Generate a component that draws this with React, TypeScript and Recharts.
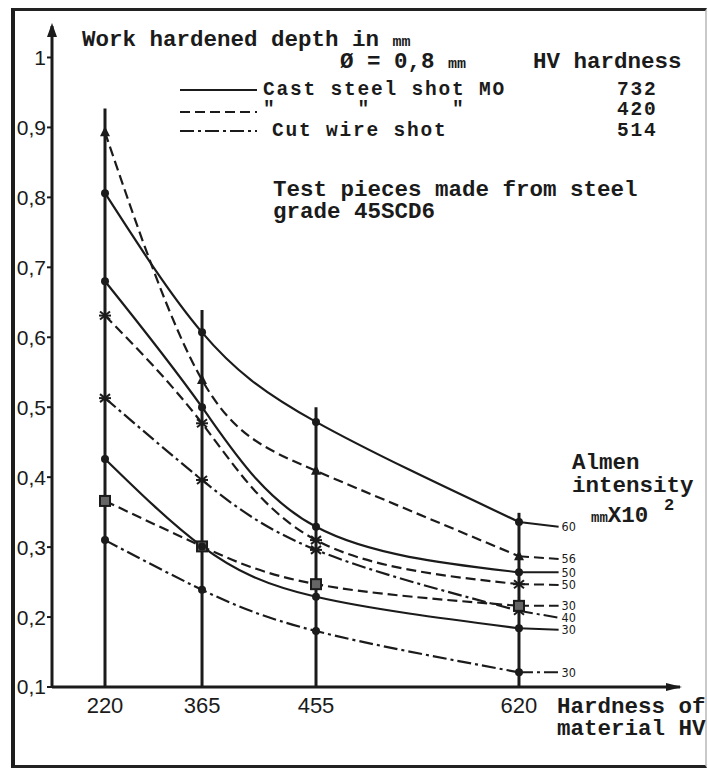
import React from "react";
import { Legend, Line, LineChart, ReferenceDot, ReferenceLine, XAxis, YAxis } from "recharts";

// hardness of the test pieces (HV) where the measurements were taken
const HARDNESS = [220, 365, 455, 620];
// each curve is led on past 620 HV to its intensity label
const CURVE_END_HV = 652;
// top of the vertical guide drawn at each hardness
const GUIDE_TOPS = [0.927, 0.639, 0.5, 0.349];

// the hardness axis of the drawing is not linear: knots and their share of the axis length
const AXIS_KNOTS_HV = [150, 220, 365, 455, 620, 750];
const AXIS_KNOTS_SHARE = [0, 0.0844, 0.2389, 0.4204, 0.7436, 1];

const Y_MIN = 0.1;
const Y_MAX = 1.045;
const Y_TICKS = [0.1, 0.2, 0.3, 0.4, 0.5, 0.6, 0.7, 0.8, 0.9, 1];

// work hardened depth (mm) at 220 / 365 / 455 / 620 HV
const DEPTH_CAST732_I60 = [0.806, 0.607, 0.479, 0.336];
const DEPTH_CAST420_I56 = [0.893, 0.539, 0.409, 0.287];
const DEPTH_CAST732_I50 = [0.68, 0.5, 0.329, 0.264];
const DEPTH_CAST420_I50 = [0.631, 0.477, 0.31, 0.247];
const DEPTH_CUTWIRE_I40 = [0.513, 0.396, 0.296, 0.209];
const DEPTH_CAST420_I30 = [0.366, 0.301, 0.247, 0.216];
const DEPTH_CAST732_I30 = [0.426, 0.301, 0.229, 0.184];
const DEPTH_CUTWIRE_I30 = [0.31, 0.239, 0.18, 0.121];
// where each lead line ends, next to its label (same order as the series)
const LEAD_END = [0.329, 0.283, 0.264, 0.246, 0.199, 0.216, 0.182, 0.121];

const SHOT_KEYS = ["cast732", "cast420", "cutwire"];
const LEGEND_LABELS = ["Cast steel shot MO", '"      "      "', "Cut wire shot"];
const LEGEND_HV = ["732", "420", "514"];

const INK = "#1b1b1b";
const MONO = "'Liberation Mono', 'DejaVu Sans Mono', monospace";
const SANS = "'Liberation Sans', Arial, sans-serif";
const NARROW = "'Liberation Sans Narrow', 'DejaVu Sans Condensed', sans-serif";

const DASH: Record<string, string | undefined> = {
  cast732: undefined,
  cast420: "10 5",
  cutwire: "14 4 3 4",
};

type Marker = "circle" | "triangle" | "square" | "star";

const SERIES: { key: string; values: number[]; intensity: string; shot: string; marker: Marker }[] = [
  { key: "c732_60", values: DEPTH_CAST732_I60, intensity: "60", shot: "cast732", marker: "circle" },
  { key: "c420_56", values: DEPTH_CAST420_I56, intensity: "56", shot: "cast420", marker: "triangle" },
  { key: "c732_50", values: DEPTH_CAST732_I50, intensity: "50", shot: "cast732", marker: "circle" },
  { key: "c420_50", values: DEPTH_CAST420_I50, intensity: "50", shot: "cast420", marker: "star" },
  { key: "cw_40", values: DEPTH_CUTWIRE_I40, intensity: "40", shot: "cutwire", marker: "star" },
  { key: "c420_30", values: DEPTH_CAST420_I30, intensity: "30", shot: "cast420", marker: "square" },
  { key: "c732_30", values: DEPTH_CAST732_I30, intensity: "30", shot: "cast732", marker: "circle" },
  { key: "cw_30", values: DEPTH_CUTWIRE_I30, intensity: "30", shot: "cutwire", marker: "circle" },
];

// piecewise linear scale so the hardness ticks sit where the drawing has them
function makeKnotScale(
  dom: number[] = [AXIS_KNOTS_HV[0], AXIS_KNOTS_HV[AXIS_KNOTS_HV.length - 1]],
  rng: number[] = [0, 1],
): any {
  const share = (v: number) => {
    const k = AXIS_KNOTS_HV;
    let i = 0;
    while (i < k.length - 2 && v > k[i + 1]) i++;
    const t = (v - k[i]) / (k[i + 1] - k[i]);
    return AXIS_KNOTS_SHARE[i] + t * (AXIS_KNOTS_SHARE[i + 1] - AXIS_KNOTS_SHARE[i]);
  };
  const scale: any = (v: unknown) => {
    const n = Number(v);
    if (!Number.isFinite(n)) return undefined;
    return rng[0] + share(n) * (rng[1] - rng[0]);
  };
  scale.domain = (d?: number[]) => {
    if (!d) return dom.slice();
    dom = d.slice();
    return scale;
  };
  scale.range = (r?: number[]) => {
    if (!r) return rng.slice();
    rng = r.slice();
    return scale;
  };
  scale.copy = () => makeKnotScale(dom, rng);
  scale.ticks = () => HARDNESS.slice();
  scale.tickFormat = () => (v: number) => String(v);
  scale.nice = () => scale;
  scale.clamp = () => scale;
  scale.invert = (px: number) => {
    const s = (px - rng[0]) / (rng[1] - rng[0]);
    let i = 0;
    while (i < AXIS_KNOTS_SHARE.length - 2 && s > AXIS_KNOTS_SHARE[i + 1]) i++;
    const t = (s - AXIS_KNOTS_SHARE[i]) / (AXIS_KNOTS_SHARE[i + 1] - AXIS_KNOTS_SHARE[i]);
    return AXIS_KNOTS_HV[i] + t * (AXIS_KNOTS_HV[i + 1] - AXIS_KNOTS_HV[i]);
  };
  return scale;
}

function renderMarker(kind: Marker) {
  return (props: any) => {
    const { cx, cy, index } = props;
    const key = `m-${index}`;
    if (cx == null || cy == null) return <g key={key} />;
    if (kind === "triangle")
      return <polygon key={key} points={`${cx},${cy - 6} ${cx - 5},${cy + 4} ${cx + 5},${cy + 4}`} fill={INK} />;
    if (kind === "square")
      return <rect key={key} x={cx - 5} y={cy - 5} width={10} height={10} fill="#666" stroke={INK} strokeWidth={2} />;
    if (kind === "star")
      return (
        <g key={key} stroke={INK} strokeWidth={2}>
          <line x1={cx - 5} y1={cy - 4} x2={cx + 5} y2={cy + 4} />
          <line x1={cx - 5} y1={cy + 4} x2={cx + 5} y2={cy - 4} />
          <line x1={cx - 6} y1={cy} x2={cx + 6} y2={cy} />
        </g>
      );
    return <circle key={key} cx={cx} cy={cy} r={4} fill={INK} />;
  };
}

function endLabel(text: string) {
  return (props: any) => {
    const { x, y, index } = props;
    if (index !== HARDNESS.length || x == null || y == null) return <g key={`l-${index}`} />;
    return (
      <text
        key={`l-${index}`}
        x={Number(x) + 3}
        y={Number(y)}
        dominantBaseline="central"
        fontFamily={NARROW}
        fontSize={12.5}
        fill={INK}
      >
        {text}
      </text>
    );
  };
}

function ShotLegend() {
  const rowY = [12, 34, 53];
  const textY = [17, 37, 58];
  const legendText = { fontFamily: MONO, fontWeight: "bold" as const, fontSize: 19.5, letterSpacing: 1.8, fill: INK };
  return (
    <svg width={510} height={70} style={{ display: "block", overflow: "visible" }}>
      {SHOT_KEYS.map((k, i) => (
        <g key={k}>
          <line x1={5} y1={rowY[i]} x2={82} y2={rowY[i]} stroke={INK} strokeWidth={2} strokeDasharray={DASH[k]} />
          <text x={i === 2 ? 97 : 88} y={textY[i]} {...legendText} style={{ whiteSpace: "pre" }}>
            {LEGEND_LABELS[i]}
          </text>
          <text x={442} y={textY[i]} {...legendText}>
            {LEGEND_HV[i]}
          </text>
        </g>
      ))}
    </svg>
  );
}

const yTickFormat = (v: number) => (v === 1 ? "1" : v.toFixed(1).replace(".", ","));

export default function App() {
  const xs = [...HARDNESS, CURVE_END_HV];
  const last = HARDNESS.length - 1;
  const rows = xs.map((hv, i) => {
    const row: Record<string, number | null> = { hv };
    SERIES.forEach((s, si) => {
      // measured curve through the four hardness values
      row[s.key] = i <= last ? s.values[i] : null;
      // straight lead from the 620 HV point to the label
      row[`${s.key}_lead`] = i === last ? s.values[last] : i === last + 1 ? LEAD_END[si] : null;
    });
    return row;
  });
  const xScale = makeKnotScale();
  const textProps = { fontFamily: MONO, fontWeight: "bold" as const, fontSize: 22.5, fill: INK };

  return (
    <div style={{ position: "absolute", left: 0, top: 0, width: 708, height: 769, background: "#fff" }}>
      <div
        style={{
          position: "absolute",
          left: 11,
          top: 8,
          width: 690,
          height: 754,
          borderLeft: "4px solid #1c1c1c",
          borderTop: "3px solid #222",
          borderBottom: "3px solid #222",
          borderRight: "2px solid #c9c9c9",
        }}
      />
      <div style={{ position: "absolute", left: 0, top: 0 }}>
        <LineChart width={708} height={769} data={rows} margin={{ top: 26, right: 28, bottom: 42, left: 12 }}>
          <XAxis
            dataKey="hv"
            type="number"
            scale={xScale}
            domain={[AXIS_KNOTS_HV[0], AXIS_KNOTS_HV[AXIS_KNOTS_HV.length - 1]]}
            allowDataOverflow
            ticks={HARDNESS}
            interval={0}
            height={40}
            tickLine={false}
            tickMargin={4}
            axisLine={{ stroke: INK, strokeWidth: 3 }}
            tick={{ fill: INK, fontFamily: SANS, fontSize: 22 }}
          />
          <YAxis
            type="number"
            domain={[Y_MIN, Y_MAX]}
            allowDataOverflow
            ticks={Y_TICKS}
            interval={0}
            width={40}
            tickSize={5}
            tickMargin={1}
            tickFormatter={yTickFormat}
            axisLine={{ stroke: INK, strokeWidth: 3 }}
            tickLine={{ stroke: INK, strokeWidth: 2 }}
            tick={{ fill: INK, fontFamily: SANS, fontSize: 21 }}
          />
          {HARDNESS.map((hv, i) => (
            <ReferenceLine
              key={hv}
              segment={[
                { x: hv, y: Y_MIN },
                { x: hv, y: GUIDE_TOPS[i] },
              ]}
              stroke={INK}
              strokeWidth={3}
              ifOverflow="visible"
            />
          ))}
          <ReferenceDot
            x={AXIS_KNOTS_HV[0]}
            y={Y_MAX}
            r={0}
            ifOverflow="visible"
            shape={(p: any) => (
              <polygon points={`${p.cx},${p.cy - 3} ${p.cx - 5},${p.cy + 11} ${p.cx + 5},${p.cy + 11}`} fill={INK} />
            )}
          />
          <ReferenceDot
            x={AXIS_KNOTS_HV[AXIS_KNOTS_HV.length - 1]}
            y={Y_MIN}
            r={0}
            ifOverflow="visible"
            shape={(p: any) => (
              <polygon points={`${p.cx + 2},${p.cy} ${p.cx - 14},${p.cy - 4} ${p.cx - 14},${p.cy + 4}`} fill={INK} />
            )}
          />
          {SERIES.map((s) => (
            <Line
              key={s.key}
              dataKey={s.key}
              type="natural"
              stroke={INK}
              strokeWidth={2.2}
              strokeDasharray={DASH[s.shot]}
              dot={renderMarker(s.marker)}
              activeDot={false}
              isAnimationActive={false}
            />
          ))}
          {SERIES.map((s) => (
            <Line
              key={`${s.key}_lead`}
              dataKey={`${s.key}_lead`}
              type="linear"
              stroke={INK}
              strokeWidth={2}
              strokeDasharray={DASH[s.shot]}
              dot={false}
              activeDot={false}
              label={endLabel(s.intensity)}
              isAnimationActive={false}
            />
          ))}
          <Legend
            layout="vertical"
            align="center"
            verticalAlign="middle"
            content={() => <ShotLegend />}
            wrapperStyle={{ position: "absolute", left: 175, top: 78, width: 510, height: 70 }}
          />
        </LineChart>
      </div>
      <svg width={708} height={769} style={{ position: "absolute", left: 0, top: 0, pointerEvents: "none" }}>
        <text x={82} y={46} {...textProps}>
          Work hardened depth in <tspan fontSize={15}>mm</tspan>
        </text>
        <text x={340} y={68} {...textProps}>
          Ø = 0,8 <tspan fontSize={15}>mm</tspan>
        </text>
        <text x={533} y={68} {...textProps}>
          HV hardness
        </text>
        <text x={273} y={196} {...textProps}>
          Test pieces made from steel
        </text>
        <text x={273} y={218} {...textProps}>
          grade 45SCD6
        </text>
        <text x={572} y={469} {...textProps}>
          Almen
        </text>
        <text x={572} y={492} {...textProps}>
          intensity
        </text>
        <text x={591} y={522} {...textProps}>
          <tspan fontSize={14}>mm</tspan>X10
        </text>
        <text x={664} y={510} {...textProps} fontSize={17}>
          2
        </text>
        <text x={557} y={713} {...textProps}>
          Hardness of
        </text>
        <text x={557} y={735} {...textProps}>
          material HV
        </text>
      </svg>
    </div>
  );
}
